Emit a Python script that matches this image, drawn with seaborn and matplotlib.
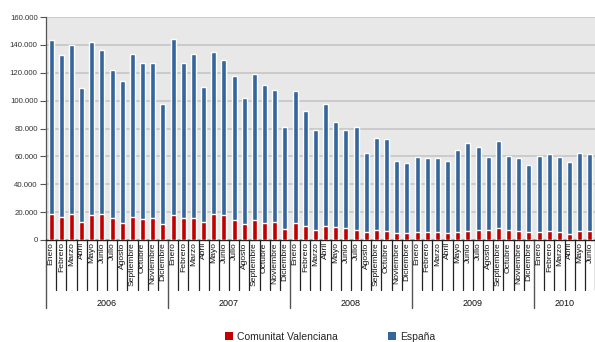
import matplotlib
matplotlib.use("Agg")
import matplotlib.pyplot as plt
import matplotlib.transforms as mtransforms
from matplotlib.patches import Patch
from matplotlib.ticker import FuncFormatter
import seaborn as sns
import pandas as pd

# Monthly series, January 2006 - June 2010
meses = ["Enero", "Febrero", "Marzo", "Abril", "Mayo", "Junio", "Julio", "Agosto",
         "Septiembre", "Octubre", "Noviembre", "Diciembre"]
anios = ["2006", "2007", "2008", "2009", "2010"]
meses_por_anio = [12, 12, 12, 12, 6]

espana = [
    143500, 132700, 140100, 108900, 142000, 136300, 122000, 114200, 133400, 126900, 126900, 97400,
    144200, 126900, 133400, 109600, 134800, 129100, 117600, 101800, 119000, 111100, 107500, 81000,
    106800, 92400, 78700, 97400, 84500, 78700, 80900, 62200, 73000, 72200, 57000, 55000,
    59200, 58500, 58500, 56400, 64300, 69400, 66700, 59500, 70800, 60000, 58600, 53500,
    60000, 61400, 59300, 55700, 62200, 61400,
]
comunitat = [
    19000, 16800, 18300, 13200, 17600, 18300, 16100, 12500, 16800, 15400, 16100, 11800,
    17600, 16100, 16100, 13200, 18300, 17600, 14700, 11800, 14700, 12500, 13200, 8200,
    12500, 10400, 7500, 10400, 9600, 8900, 7500, 6000, 7500, 6800, 5300, 5300,
    6000, 6000, 6000, 5300, 6000, 6800, 7500, 7000, 8400, 7000, 6300, 5500,
    5500, 6300, 5500, 4600, 6300, 6300,
]

periodos, etiquetas_mes = [], []
for anio, n in zip(anios, meses_por_anio):
    for m in meses[:n]:
        periodos.append(f"{m} {anio}")
        etiquetas_mes.append(m)

df = pd.DataFrame({"periodo": periodos, "espana": espana, "comunitat": comunitat})

ROJO = "#C00000"
AZUL = "#34659B"

sns.set_theme(style="white")
plt.rcParams["font.family"] = ["Liberation Sans", "DejaVu Sans"]

fig = plt.figure(figsize=(5.95, 3.42), dpi=100)
ax = fig.add_axes([46 / 595, 1 - 240 / 342, 1 - 46 / 595, 223 / 342])
ax.set_facecolor("#E8E8E8")

sns.barplot(data=df, x="periodo", y="espana", color=AZUL, width=0.5,
            saturation=1, ax=ax, zorder=2)
sns.barplot(data=df, x="periodo", y="comunitat", color=ROJO, width=0.5,
            saturation=1, ax=ax, zorder=3)

n = len(periodos)
ax.set_xlim(-0.5, n - 0.5)
ax.set_ylim(0, 160000)
ax.set_yticks(range(0, 160001, 20000))
ax.yaxis.set_major_formatter(FuncFormatter(lambda v, p: f"{v:,.0f}".replace(",", ".")))
ax.tick_params(axis="y", left=True, length=4, width=0.8, color="#555555",
               pad=2, labelsize=5.6, labelcolor="#333333")
ax.grid(axis="y", color="#C8C8C8", linewidth=1.3, zorder=0)
ax.set_axisbelow(True)
ax.set_xlabel("")
ax.set_ylabel("")

for side in ["top", "right"]:
    ax.spines[side].set_visible(False)
ax.spines["left"].set_color("#555555")
ax.spines["left"].set_linewidth(0.9)
ax.spines["bottom"].set_color("#222222")
ax.spines["bottom"].set_linewidth(1.0)

# Month labels (rotated) and the two-level category separators
ax.set_xticks(range(n))
ax.set_xticklabels([])
ax.tick_params(axis="x", bottom=False)
trans = mtransforms.blended_transform_factory(ax.transData, ax.transAxes)
for i, m in enumerate(etiquetas_mes):
    ax.text(i, -0.01, m, rotation=90, ha="center", va="top", fontsize=6.1,
            color="#111111", transform=trans, clip_on=False)

inicio = 0
cortes_anio = []
for n_m in meses_por_anio:
    cortes_anio.append(inicio - 0.5)
    inicio += n_m
for i in range(n + 1):
    x = i - 0.5
    if x in cortes_anio:
        ax.plot([x, x], [0, -0.305], color="#555555", lw=1.0,
                transform=trans, clip_on=False)
    else:
        ax.plot([x, x], [0, -0.224], color="#222222", lw=0.9,
                transform=trans, clip_on=False)

inicio = 0
for anio, n_m in zip(anios, meses_por_anio):
    centro = inicio + (n_m - 1) / 2
    ax.text(centro, -0.283, anio, ha="center", va="center", fontsize=6.5,
            color="#111111", transform=trans, clip_on=False)
    inicio += n_m

handles = [Patch(facecolor=ROJO, edgecolor="none", label="Comunitat Valenciana"),
           Patch(facecolor=AZUL, edgecolor="none", label="España")]
fig.legend(handles=handles, loc="center", bbox_to_anchor=(0.555, 0.016), ncol=2,
           frameon=False, fontsize=7.5, handlelength=0.8, handleheight=0.8,
           handletextpad=0.4, columnspacing=4.8, borderpad=0)

fig.savefig("out.png", dpi=100)
